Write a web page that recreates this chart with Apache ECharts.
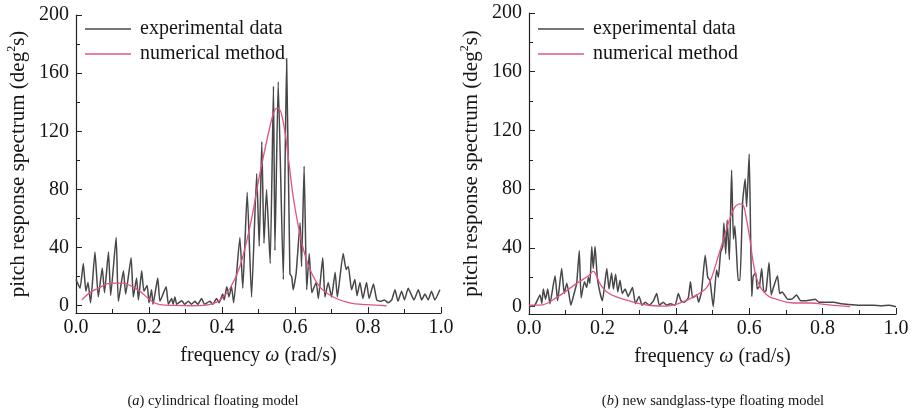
<!DOCTYPE html>
<html>
<head>
<meta charset="utf-8">
<script src="https://cdn.jsdelivr.net/npm/echarts@6/dist/echarts.min.js"></script>
<style>
html,body{margin:0;padding:0;background:#fff;}
#chart{width:917px;height:413px;}
</style>
</head>
<body>
<div id="chart"></div>
<script>
// ---------- data ----------
const seriesNames = ['experimental data', 'numerical method'];
const xTickLabels = ['0.0', '0.2', '0.4', '0.6', '0.8', '1.0'];
const yTickValues = [0, 40, 80, 120, 160, 200];
const yMinorValues = [20, 60, 100, 140, 180];

// (a) cylindrical floating model - experimental data
const expAFreq = [0.0,0.011,0.02,0.027,0.033,0.04,0.052,0.061,0.072,0.078,0.089,0.095,0.11,0.116,0.13,0.136,0.151,0.157,0.166,0.171,0.18,0.186,0.195,0.2,0.207,0.211,0.224,0.23,0.247,0.253,0.262,0.266,0.271,0.276,0.29,0.297,0.308,0.316,0.326,0.334,0.344,0.352,0.367,0.375,0.385,0.392,0.402,0.406,0.413,0.419,0.426,0.432,0.449,0.457,0.469,0.481,0.495,0.502,0.509,0.515,0.522,0.532,0.541,0.545,0.554,0.568,0.577,0.586,0.591,0.595,0.603,0.614,0.618,0.625,0.632,0.639,0.646,0.658,0.664,0.676,0.682,0.691,0.7,0.71,0.716,0.732,0.74,0.746,0.755,0.764,0.77,0.778,0.786,0.796,0.803,0.815,0.824,0.835,0.845,0.855,0.865,0.874,0.882,0.892,0.9,0.91,0.918,0.926,0.938,0.947,0.956,0.965,0.974,0.983,0.997];
const expAVal  = [18,12,29,10,16,2,37,6,26,9,37,7,47,3,24,8,33,6,19,4,24,10,14,2,11,1,19,3,13,1,5,1,6,1,3.5,1,3,1,3,1,5,1,3,1,5,2,8,4,13,6,13,2,47,12,78,6,91,41,113,43,80,29,151,38,154,18,170,22,20,11,22,57,27,96,11,36,9,16,5,33,6,16,6,23,6,36,25,27,11,18,7,16,5,16,5,15,4,3,4,2,4,11,3,10,4,12,8,4,11,4,8,4,10,4,11];

// (a) numerical method
const numAFreq = [0.016,0.038,0.061,0.085,0.107,0.13,0.148,0.175,0.203,0.23,0.27,0.32,0.349,0.375,0.395,0.422,0.449,0.477,0.504,0.532,0.545,0.554,0.568,0.582,0.595,0.609,0.623,0.641,0.668,0.705,0.75,0.796,0.851];
const numAVal  = [4,9,12,15,15.6,15.5,14,10,4,0.7,0.2,0,0.3,1.5,4,12,27,55,91,124,135,136,126,101,75,55,39,25,13,6,2,0.7,0];

// (b) new sandglass-type floating model - experimental data
const expBFreq = [0.0,0.016,0.03,0.035,0.039,0.045,0.051,0.057,0.071,0.078,0.089,0.096,0.103,0.108,0.114,0.124,0.13,0.137,0.142,0.151,0.157,0.162,0.166,0.171,0.175,0.18,0.186,0.193,0.2,0.212,0.218,0.225,0.23,0.236,0.242,0.248,0.254,0.262,0.27,0.282,0.29,0.3,0.308,0.317,0.328,0.339,0.348,0.355,0.366,0.375,0.385,0.398,0.407,0.414,0.423,0.434,0.44,0.446,0.457,0.462,0.47,0.48,0.487,0.493,0.502,0.511,0.516,0.522,0.528,0.531,0.536,0.54,0.546,0.552,0.557,0.561,0.566,0.57,0.575,0.582,0.589,0.593,0.6,0.604,0.607,0.611,0.618,0.622,0.628,0.634,0.64,0.646,0.654,0.66,0.666,0.677,0.683,0.69,0.696,0.705,0.715,0.729,0.74,0.755,0.78,0.79,0.81,0.83,0.85,0.87,0.9,0.938,0.96,0.98,1.0];
const expBVal  = [0,1,8,2,12,5,12,2,21,4,26,9,16,10,1,10,16,38,6,17,13,20,16,41,26,41,20,10,4,26,12,23,12,22,10,18,9,12,7,13,2,7,1,3,1,4,9,1,3,1,2,1,9,4,3,6,17,6,8,3,10,35,20,18,0,25,20,37,41,57,36,59,32,93,46,55,34,18,18,71,87,68,104,46,7,21,23,12,14,26,10,11,30,8,13,21,9,10,8,5,5,8,4,4,5,3,3,3,2,1.5,1,1,0.5,1,0];

// (b) numerical method
const numBFreq = [0.0,0.03,0.08,0.125,0.162,0.175,0.18,0.195,0.212,0.24,0.266,0.3,0.33,0.37,0.4,0.416,0.443,0.47,0.484,0.493,0.502,0.53,0.557,0.575,0.584,0.593,0.602,0.611,0.625,0.648,0.675,0.72,0.766,0.811,0.85,0.875];
const numBVal  = [1,1,7,15,21,24,23,15,10,6.5,4.5,2,0.8,0.3,1.5,3,6,10,13,17,23,46,66,70,69,59,46,30,16,8,5,2.5,2.5,1.4,0.5,0];

// ---------- chart ----------
const FONT = "'Liberation Serif','Times New Roman','DejaVu Serif',serif";
const TXT = '#151515';
const pairs = (xs, ys) => xs.map((x, i) => [x, ys[i]]);

function xAxisFor(g) {
  return {
    type: 'value', gridIndex: g, min: 0, max: 1, interval: 0.2,
    axisLine: { show: true, onZero: false, lineStyle: { color: '#222', width: 1.2 } },
    axisTick: { show: true, inside: true, length: 6, lineStyle: { color: '#222', width: 1 } },
    minorTick: { show: true, splitNumber: 2, length: 4, lineStyle: { color: '#222', width: 1 } },
    splitLine: { show: false },
    axisLabel: { color: TXT, fontSize: 20, fontFamily: FONT, margin: 5,
      formatter: v => xTickLabels[Math.round(v / 0.2)] },
    name: 'frequency {i|ω} (rad/s)', nameLocation: 'middle', nameGap: 33,
    nameTextStyle: { color: TXT, fontSize: 20, fontFamily: FONT,
      rich: { i: { fontStyle: 'italic', fontSize: 20, fontFamily: FONT, color: TXT } } }
  };
}
function yAxisFor(g) {
  return {
    type: 'value', gridIndex: g, min: -5, max: 200, position: 'left',
    axisLine: { show: true, onZero: false, lineStyle: { color: '#222', width: 1.2 } },
    axisTick: { show: true, inside: true, length: 6, customValues: yTickValues, lineStyle: { color: '#222', width: 1 } },
    splitLine: { show: false },
    axisLabel: { color: TXT, fontSize: 20, fontFamily: FONT, margin: 7, customValues: yTickValues },
    name: 'pitch response spectrum (deg{sup|2}s)', nameLocation: 'middle', nameGap: 46, nameRotate: 90,
    nameTextStyle: { color: TXT, fontSize: 21, fontFamily: FONT,
      rich: { sup: { fontSize: 12, fontFamily: FONT, color: TXT, padding: [0, 0, 12, 0] } } }
  };
}
function yMinorFor(g) {
  return {
    type: 'value', gridIndex: g, min: -5, max: 200, position: 'left',
    axisLine: { show: false },
    axisTick: { show: true, inside: true, length: 4, customValues: yMinorValues, lineStyle: { color: '#222', width: 1 } },
    axisLabel: { show: false }, splitLine: { show: false }
  };
}
function legendFor(left) {
  return {
    orient: 'vertical', left: left, top: 14, icon: 'rect',
    itemWidth: 46, itemHeight: 1.6, itemGap: 5,
    data: seriesNames,
    textStyle: { color: TXT, fontSize: 20, fontFamily: FONT, lineHeight: 20, padding: [0, 0, 0, 4] }
  };
}
function expSeries(name, g, data) {
  return { name, type: 'line', xAxisIndex: g, yAxisIndex: g, data, showSymbol: false, smooth: 0.15,
    lineStyle: { color: '#474747', width: 1.5 }, itemStyle: { color: '#474747' }, z: 2 };
}
function numSeries(name, g, data) {
  return { name, type: 'line', xAxisIndex: g, yAxisIndex: g, data, showSymbol: false, smooth: 0.4,
    lineStyle: { color: '#e0567f', width: 1.3 }, itemStyle: { color: '#e0567f' }, z: 3 };
}

const chart = echarts.init(document.getElementById('chart'), null, { renderer: 'canvas' });
chart.setOption({
  animation: false,
  backgroundColor: '#ffffff',
  grid: [
    { left: 76, top: 15, width: 365, height: 298 },
    { left: 529, top: 13, width: 367, height: 301 }
  ],
  xAxis: [xAxisFor(0), xAxisFor(1)],
  yAxis: [yAxisFor(0), yAxisFor(1), yMinorFor(0), yMinorFor(1)],
  legend: [legendFor(80), legendFor(533)],
  series: [
    expSeries(seriesNames[0], 0, pairs(expAFreq, expAVal)),
    numSeries(seriesNames[1], 0, pairs(numAFreq, numAVal)),
    expSeries(seriesNames[0], 1, pairs(expBFreq, expBVal)),
    numSeries(seriesNames[1], 1, pairs(numBFreq, numBVal))
  ],
  graphic: [
    { type: 'text', x: 213, y: 401, style: { text: '({i|a}) cylindrical floating model', align: 'center', verticalAlign: 'middle',
      fill: TXT, font: "14.5px " + FONT,
      rich: { i: { fontStyle: 'italic', fontSize: 14.5, fontFamily: FONT, fill: TXT } } } },
    { type: 'text', x: 713, y: 401, style: { text: '({i|b}) new sandglass-type floating model', align: 'center', verticalAlign: 'middle',
      fill: TXT, font: "14.5px " + FONT,
      rich: { i: { fontStyle: 'italic', fontSize: 14.5, fontFamily: FONT, fill: TXT } } } }
  ]
});
</script>
</body>
</html>
